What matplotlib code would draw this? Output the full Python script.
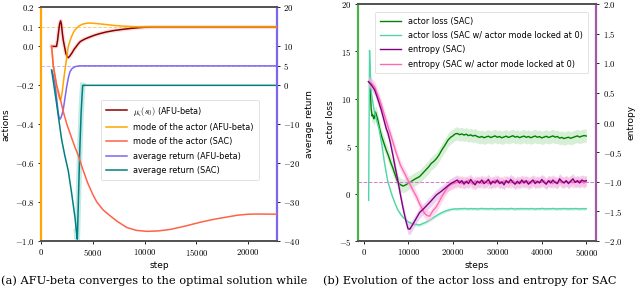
import numpy as np
import matplotlib
matplotlib.use("Agg")
import matplotlib.pyplot as plt

plt.rcParams["font.family"] = "DejaVu Sans"
plt.rcParams["mathtext.fontset"] = "cm"
plt.rcParams["font.size"] = 6

# ---- (a) AFU-beta vs SAC: actions (left axis) and average return (right axis)
MU_STEPS = [1030, 1500, 1600, 1700, 1800, 1900, 1970, 2050, 2150, 2270, 2400,
            2520, 2640, 2780, 3000, 3200, 3400, 3600, 3800, 4200, 4700, 5200,
            5700, 6300, 7000, 7800, 8600, 9400, 10200, 11000, 22800]
MU_VALS = [0.0, 0.0, 0.03, 0.075, 0.115, 0.131, 0.115, 0.075, 0.033, 0.0, -0.035,
           -0.052, -0.058, -0.05, -0.033, -0.015, -0.001, 0.013, 0.025, 0.037,
           0.048, 0.058, 0.066, 0.074, 0.081, 0.087, 0.092, 0.096, 0.099, 0.1, 0.1]

MODE_AFU_STEPS = [1030, 1110, 1190, 1350, 1520, 1700, 1800, 1870, 1950, 2050,
                  2150, 2280, 2400, 2520, 2640, 2800, 2950, 3120, 3290, 3500,
                  3700, 4000, 4400, 4800, 5200, 5800, 6500, 7200, 8000, 8800,
                  9500, 22800]
MODE_AFU_VALS = [0.0, -0.05, -0.1, -0.155, -0.205, -0.25, -0.27, -0.275, -0.265,
                 -0.235, -0.19, -0.135, -0.09, -0.045, 0.0, 0.028, 0.05, 0.07,
                 0.085, 0.097, 0.106, 0.114, 0.119, 0.12, 0.118, 0.115, 0.111,
                 0.107, 0.104, 0.102, 0.1, 0.1]

MODE_SAC_STEPS = [1030, 1190, 1520, 1870, 2130, 2500, 2960, 3300, 3600, 4000,
                  4500, 5000, 5400, 6000, 6670, 7400, 8280, 9200, 10200, 11300,
                  12500, 14000, 15400, 16700, 18000, 19000, 20000, 21000, 22800]
MODE_SAC_VALS = [0.0, -0.1, -0.2, -0.27, -0.33, -0.40, -0.47, -0.52, -0.56,
                 -0.625, -0.70, -0.76, -0.80, -0.84, -0.87, -0.90, -0.93, -0.945,
                 -0.95, -0.948, -0.94, -0.922, -0.903, -0.888, -0.876, -0.867,
                 -0.862, -0.861, -0.862]

RET_AFU_STEPS = [1030, 1200, 1350, 1500, 1670, 1760, 1840, 1950, 2050, 2150,
                 2300, 2480, 2650, 2800, 3000, 3290, 3700, 22800]
RET_AFU_VALS = [3.9, 2.5, 0.5, -3.0, -7.2, -8.3, -8.7, -8.2, -7.3, -6.3, -3.6,
                -0.4, 2.0, 3.5, 4.3, 4.8, 5.0, 5.0]

RET_SAC_STEPS = [1030, 1250, 1500, 1750, 2000, 2300, 2640, 2950, 3290, 3420,
                 3510, 3580, 3640, 3700, 3770, 3880, 3960, 4030, 22800]
RET_SAC_VALS = [3.9, 0.0, -4.5, -9.3, -14.0, -18.0, -22.0, -27.5, -34.0, -37.5,
                -39.5, -33.0, -27.0, -21.0, -15.0, -7.0, -3.0, 0.0, 0.0]

OPT_ACTION = 0.1
OPT_RETURN = 5

# ---- (b) SAC actor loss (left axis) and entropy (right axis)
TAIL_STEPS = np.arange(21000, 50001, 500)

LOSS_SAC_STEPS = [1300, 1450, 1600, 1800, 2000, 2200, 2400, 2600, 2800, 3100,
                  3500, 4000, 4500, 5000, 5500, 6000, 6500, 7000, 7600, 8200,
                  8800, 9500, 10100, 10650, 11500, 12500, 13500, 14500, 15150,
                  15700, 16300, 16900, 17500, 18200, 18900, 19500, 20000, 20500]
LOSS_SAC_VALS = [13.2, 10.8, 9.0, 8.2, 8.3, 7.9, 8.1, 8.6, 8.3, 7.8, 6.9, 6.0,
                 5.3, 4.6, 4.0, 3.3, 2.7, 2.0, 1.2, 0.95, 0.8, 0.95, 1.15, 1.3,
                 1.55, 1.8, 2.3, 2.8, 3.2, 3.4, 3.7, 4.1, 4.6, 5.1, 5.65, 5.95,
                 6.1, 6.3]
LOSS_SAC_TAIL = [6.35, 6.22, 6.30, 6.18, 6.27, 6.12, 6.20, 6.08, 6.15, 6.02,
                 5.94, 6.03, 5.90, 5.99, 6.06, 5.92, 6.01, 6.09, 5.95, 6.03,
                 5.89, 5.98, 6.06, 5.93, 6.02, 6.11, 5.96, 6.04, 5.91, 6.00,
                 6.07, 5.94, 6.03, 5.90, 5.99, 6.08, 5.95, 6.02, 5.88, 5.97,
                 6.05, 5.93, 6.00, 6.09, 5.96, 6.03, 5.86, 5.93, 5.81, 5.89,
                 5.95, 5.84, 5.93, 6.01, 6.09, 5.97, 6.06, 6.13, 6.08]

LOSS_LOCK_STEPS = [1050, 1250, 1450, 1700, 2200, 2800, 3400, 4000, 4600, 5300,
                   5850, 6400, 7000, 7600, 8200, 8800, 9900, 11000, 12500, 14000,
                   15000, 15900, 16700, 17500, 18500, 19600, 20500]
LOSS_LOCK_VALS = [-0.7, 15.1, 12.5, 10.5, 9.0, 7.8, 6.8, 5.2, 3.3, 1.4, 0.5,
                  -0.3, -1.05, -1.7, -2.15, -2.5, -2.96, -3.2, -3.3, -3.0,
                  -2.72, -2.44, -2.2, -2.0, -1.8, -1.66, -1.6]
LOSS_LOCK_TAIL = [-1.62, -1.58, -1.60, -1.56, -1.59, -1.61, -1.57, -1.60, -1.58, -1.62,
                  -1.59, -1.56, -1.60, -1.58, -1.61, -1.57, -1.59, -1.62, -1.58, -1.60,
                  -1.57, -1.60, -1.58, -1.61, -1.56, -1.59, -1.62, -1.58, -1.60, -1.57,
                  -1.60, -1.58, -1.61, -1.57, -1.59, -1.62, -1.58, -1.60, -1.56, -1.59,
                  -1.61, -1.58, -1.60, -1.57, -1.59, -1.62, -1.58, -1.60, -1.57, -1.59,
                  -1.61, -1.58, -1.60, -1.57, -1.59, -1.61, -1.58, -1.60, -1.58]

ENT_SAC_STEPS = [1000, 1700, 2400, 3100, 3900, 4500, 5000, 5400, 5900, 6500,
                 7000, 7600, 8200, 8800, 9400, 9900, 10300, 10800, 11500, 12500,
                 13600, 15000, 16300, 17400, 18500, 19500, 20500]
ENT_SAC_VALS = [0.69, 0.63, 0.55, 0.40, 0.21, 0.04, -0.10, -0.18, -0.33, -0.55,
                -0.75, -0.97, -1.22, -1.45, -1.65, -1.79, -1.80, -1.74, -1.65,
                -1.52, -1.44, -1.33, -1.22, -1.16, -1.09, -1.03, -0.99]
ENT_SAC_TAIL = [-0.97, -1.02, -0.98, -1.04, -0.99, -1.03, -0.96, -1.01, -1.05, -0.99,
                -1.02, -0.97, -1.03, -1.00, -0.96, -1.04, -0.99, -1.02, -0.97, -1.03,
                -1.00, -1.05, -0.98, -1.02, -0.96, -1.01, -1.04, -0.99, -1.03, -0.97,
                -1.02, -0.98, -1.04, -1.00, -0.97, -1.03, -0.99, -1.02, -0.96, -1.01,
                -1.04, -0.98, -1.02, -0.97, -1.01, -1.03, -0.95, -0.99, -1.02, -0.98,
                -1.03, -0.99, -0.95, -1.01, -0.98, -1.02, -0.97, -0.99, -0.98]

ENT_LOCK_STEPS = [1000, 1700, 2400, 3100, 3900, 4700, 5400, 6150, 6700, 7280,
                  8200, 9150, 10270, 11000, 11800, 12500, 13600, 14200, 14770,
                  15400, 16300, 17500, 18900, 19700, 20500]
ENT_LOCK_VALS = [0.69, 0.66, 0.60, 0.47, 0.30, 0.10, -0.07, -0.24, -0.38, -0.52,
                 -0.72, -0.86, -1.03, -1.14, -1.25, -1.37, -1.53, -1.57, -1.58,
                 -1.50, -1.42, -1.25, -1.08, -1.04, -1.02]
ENT_LOCK_TAIL = [-1.01, -0.98, -1.03, -0.99, -1.02, -0.97, -1.01, -1.04, -0.98, -1.02,
                 -0.99, -1.03, -0.98, -1.01, -1.03, -0.99, -1.02, -0.97, -1.01, -0.99,
                 -1.03, -0.98, -1.01, -0.99, -1.02, -0.98, -1.01, -1.03, -0.99, -1.02,
                 -0.98, -1.02, -0.99, -1.03, -1.00, -0.98, -1.02, -0.99, -1.01, -0.98,
                 -1.02, -1.00, -0.98, -1.03, -0.99, -1.01, -0.98, -1.02, -1.00, -0.99,
                 -1.01, -0.98, -1.02, -0.99, -1.01, -0.98, -1.00, -1.02, -0.99]

TARGET_ENTROPY = -1.0
SPREAD = {"loss_sac": 0.7, "loss_lock": 0.15, "ent_sac": 0.09, "ent_lock": 0.09}

CAPTION_A = "(a) AFU-beta converges to the optimal solution while"
CAPTION_B = "(b) Evolution of the actor loss and entropy for SAC"


def mlab(vals, fmt):
    return [f"${fmt.format(v)}$" for v in vals]


def frame(ax, twin, lcol, rcol):
    for a in (ax, twin):
        for s in ("top", "bottom"):
            a.spines[s].set_color("#555555")
            a.spines[s].set_linewidth(1.4)
        a.spines["left"].set_visible(False)
        a.spines["right"].set_visible(False)
    ax.spines["left"].set_visible(True)
    ax.spines["left"].set_color(lcol)
    ax.spines["left"].set_linewidth(1.6)
    twin.spines["right"].set_visible(True)
    twin.spines["right"].set_color(rcol)
    twin.spines["right"].set_linewidth(1.6)
    ax.tick_params(axis="both", length=2.5, width=0.6, labelsize=6.3, pad=2)
    twin.tick_params(axis="y", length=2.5, width=0.6, labelsize=6.3, pad=2)


fig = plt.figure(figsize=(6.4, 2.87), dpi=100)

# ------------------------------------------------------------ left panel
ax = fig.add_axes([0.064, 0.160, 0.369, 0.814])
ax2 = ax.twinx()
ax.set_zorder(2)
ax.patch.set_visible(False)

ax.axhline(OPT_ACTION, color="orange", ls="--", lw=0.7, alpha=0.55)
ax2.axhline(OPT_RETURN, color="#7b68ee", ls="--", lw=0.7, alpha=0.45)

ax.plot(MU_STEPS, MU_VALS, color="#f4a0a0", lw=3, alpha=0.35)
l1, = ax.plot(MU_STEPS, MU_VALS, color="darkred", lw=1.1,
              label=r"$\mu_\zeta(s_0)$ (AFU-beta)")
l2, = ax.plot(MODE_AFU_STEPS, MODE_AFU_VALS, color="orange", lw=1.1,
              label="mode of the actor (AFU-beta)")
l3, = ax.plot(MODE_SAC_STEPS, MODE_SAC_VALS, color="tomato", lw=1.1,
              label="mode of the actor (SAC)")
ax2.plot(RET_SAC_STEPS[9:18], RET_SAC_VALS[9:18], color="#9fded8", lw=4, alpha=0.6)
l4, = ax2.plot(RET_AFU_STEPS, RET_AFU_VALS, color="#7b68ee", lw=1.1,
               label="average return (AFU-beta)")
l5, = ax2.plot(RET_SAC_STEPS, RET_SAC_VALS, color="teal", lw=1.1,
               label="average return (SAC)")

ax.set_xlim(0, 22800)
ax.set_ylim(-1.0, 0.2)
ax2.set_ylim(-40, 20)
yt = [0.2, 0.1, 0.0, -0.2, -0.4, -0.6, -0.8, -1.0]
ax.set_yticks(yt, mlab(yt, "{:.1f}"))
yt2 = [20, 10, 5, 0, -10, -20, -30, -40]
ax2.set_yticks(yt2, mlab(yt2, "{:d}"))
xt = [0, 5000, 10000, 15000, 20000]
ax.set_xticks(xt, mlab(xt, "{:d}"))
ax.set_xlabel("step", fontsize=6.5, labelpad=2)
ax.set_ylabel("actions", fontsize=6.5, labelpad=3)
ax2.set_ylabel("average return", fontsize=6.5, labelpad=3)
frame(ax, ax2, "orange", "#7b68ee")

leg = ax.legend(handles=[l1, l2, l3, l4, l5], loc="lower right",
                bbox_to_anchor=(0.94, 0.245), fontsize=5.9, handlelength=2.6,
                labelspacing=0.65, borderpad=0.6, framealpha=1, edgecolor="#dddddd")
leg.get_frame().set_linewidth(0.6)

# ------------------------------------------------------------ right panel
bx = fig.add_axes([0.559, 0.160, 0.373, 0.826])
bx2 = bx.twinx()

loss_sac_x = np.concatenate([LOSS_SAC_STEPS, TAIL_STEPS])
loss_sac_y = np.concatenate([LOSS_SAC_VALS, LOSS_SAC_TAIL])
loss_lock_x = np.concatenate([LOSS_LOCK_STEPS, TAIL_STEPS])
loss_lock_y = np.concatenate([LOSS_LOCK_VALS, LOSS_LOCK_TAIL])
ent_sac_x = np.concatenate([ENT_SAC_STEPS, TAIL_STEPS])
ent_sac_y = np.concatenate([ENT_SAC_VALS, ENT_SAC_TAIL])
ent_lock_x = np.concatenate([ENT_LOCK_STEPS, TAIL_STEPS])
ent_lock_y = np.concatenate([ENT_LOCK_VALS, ENT_LOCK_TAIL])

sp = SPREAD["loss_sac"]
bx.fill_between(loss_sac_x, loss_sac_y - sp, loss_sac_y + sp, color="#a6dca6", alpha=0.45, lw=0)
sp = SPREAD["loss_lock"]
bx.fill_between(loss_lock_x, loss_lock_y - sp, loss_lock_y + sp, color="#9be8cc", alpha=0.45, lw=0)
m1, = bx.plot(loss_sac_x, loss_sac_y, color="green", lw=1.0, label="actor loss (SAC)")
m2, = bx.plot(loss_lock_x, loss_lock_y, color="#4fd6a6", lw=1.0,
              label="actor loss (SAC w/ actor mode locked at 0)")

bx2.axhline(TARGET_ENTROPY, color="#d577d5", ls="--", lw=0.7)
sp = SPREAD["ent_sac"]
bx2.fill_between(ent_sac_x, ent_sac_y - sp, ent_sac_y + sp, color="#d8a8e0", alpha=0.5, lw=0)
sp = SPREAD["ent_lock"]
bx2.fill_between(ent_lock_x, ent_lock_y - sp, ent_lock_y + sp, color="#ffb6de", alpha=0.5, lw=0)
m4, = bx2.plot(ent_lock_x, ent_lock_y, color="hotpink", lw=1.0,
               label="entropy (SAC w/ actor mode locked at 0)")
m3, = bx2.plot(ent_sac_x, ent_sac_y, color="purple", lw=1.0, label="entropy (SAC)")

bx.set_xlim(-1400, 52300)
bx.set_ylim(-5, 20)
bx2.set_ylim(-2.0, 2.0)
yt = [-5, 0, 5, 10, 15, 20]
bx.set_yticks(yt, mlab(yt, "{:d}"))
yt2 = [-2.0, -1.5, -1.0, -0.5, 0.0, 0.5, 1.0, 1.5, 2.0]
bx2.set_yticks(yt2, mlab(yt2, "{:.1f}"))
xt = [0, 10000, 20000, 30000, 40000, 50000]
bx.set_xticks(xt, mlab(xt, "{:d}"))
bx.set_xlabel("steps", fontsize=6.5, labelpad=2)
bx.set_ylabel("actor loss", fontsize=6.5, labelpad=3)
bx2.set_ylabel("entropy", fontsize=6.5, labelpad=3)
frame(bx, bx2, "#4caf50", "#a05aa8")

leg = bx2.legend(handles=[m1, m2, m3, m4], loc="upper right",
                 bbox_to_anchor=(0.98, 0.985), fontsize=5.9, handlelength=2.6,
                 labelspacing=0.65, borderpad=0.6, framealpha=1, edgecolor="#dddddd")
leg.get_frame().set_linewidth(0.6)

# ------------------------------------------------------------ captions
fig.text(0.002, 0.004, CAPTION_A, va="bottom", ha="left", family="DejaVu Serif", fontsize=8.2)
fig.text(0.505, 0.004, CAPTION_B, va="bottom", ha="left", family="DejaVu Serif", fontsize=8.2)

fig.savefig("out.png", dpi=100)
